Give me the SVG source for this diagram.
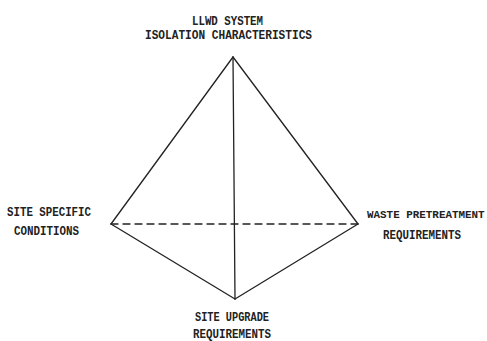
<svg xmlns="http://www.w3.org/2000/svg" width="487" height="341" viewBox="0 0 487 341">
<style>
.t{font-family:"Liberation Mono","DejaVu Sans Mono",monospace;font-size:12.5px;font-weight:bold;fill:#222}
.e{stroke:#222;stroke-width:1.3;fill:none;stroke-linecap:round}
.d{stroke-dasharray:7 5}
</style>
<rect width="487" height="341" fill="#fff"/>
<g id="connectors">
<line class="e" x1="233" y1="57" x2="111" y2="224"/>
<line class="e" x1="233" y1="57" x2="358" y2="224"/>
<line class="e" x1="233" y1="57" x2="235" y2="299"/>
<line class="e" x1="111" y1="224" x2="235" y2="299"/>
<line class="e" x1="358" y1="224" x2="235" y2="299"/>
<line class="e d" x1="111" y1="224" x2="358" y2="224"/>
</g>
<g id="top">
<text class="t" x="192" y="25" textLength="71" lengthAdjust="spacingAndGlyphs">LLWD SYSTEM</text>
<text class="t" x="145" y="39" textLength="167" lengthAdjust="spacingAndGlyphs">ISOLATION CHARACTERISTICS</text>
</g>
<g id="left">
<text class="t" x="7" y="216" textLength="84" lengthAdjust="spacingAndGlyphs">SITE SPECIFIC</text>
<text class="t" x="14" y="235" textLength="65" lengthAdjust="spacingAndGlyphs">CONDITIONS</text>
</g>
<g id="right">
<text class="t" x="367" y="218" style="font-size:10.9px">WASTE PRETREATMENT</text>
<text class="t" x="383" y="239" textLength="78" lengthAdjust="spacingAndGlyphs">REQUIREMENTS</text>
</g>
<g id="bottom">
<text class="t" x="195" y="321" textLength="74" lengthAdjust="spacingAndGlyphs">SITE UPGRADE</text>
<text class="t" x="193" y="338" textLength="78" lengthAdjust="spacingAndGlyphs">REQUIREMENTS</text>
</g>
</svg>
